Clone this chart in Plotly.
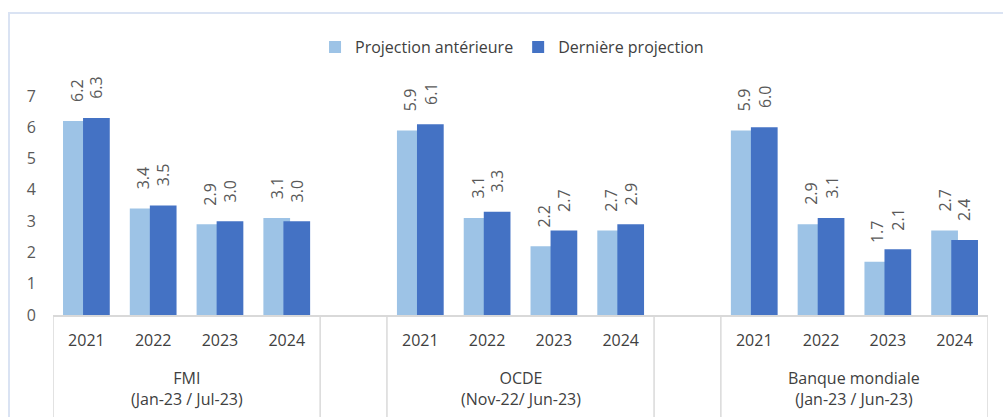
import plotly.graph_objects as go

# ---- data ----
groups = ["FMI", "OCDE", "Banque mondiale"]
group_periods = ["(Jan-23 / Jul-23)", "(Nov-22/ Jun-23)", "(Jan-23 / Jun-23)"]
years = ["2021", "2022", "2023", "2024"]
prev_fmi = [6.2, 3.4, 2.9, 3.1]
new_fmi = [6.3, 3.5, 3.0, 3.0]
prev_ocde = [5.9, 3.1, 2.2, 2.7]
new_ocde = [6.1, 3.3, 2.7, 2.9]
prev_bm = [5.9, 2.9, 1.7, 2.7]
new_bm = [6.0, 3.1, 2.1, 2.4]
series_names = ["Projection antérieure", "Dernière projection"]
y_ticks = [0, 1, 2, 3, 4, 5, 6, 7]

prev_all = [prev_fmi, prev_ocde, prev_bm]
new_all = [new_fmi, new_ocde, new_bm]

# build slot layout: 4 years per group, one empty slot between groups
xs, prev_vals, new_vals, tick_text = [], [], [], []
group_centers, boundaries = [], [-0.5]
pos = 0
for gi in range(len(groups)):
    start = pos
    for yi, yr in enumerate(years):
        xs.append(pos)
        prev_vals.append(prev_all[gi][yi])
        new_vals.append(new_all[gi][yi])
        tick_text.append(yr)
        pos += 1
    group_centers.append((start + pos - 1) / 2)
    boundaries.append(pos - 0.5)
    if gi < len(groups) - 1:
        pos += 1
        boundaries.append(pos - 0.5)
n_slots = pos

C_PREV = "#9DC3E6"
C_NEW = "#4472C4"
FONT = "Open Sans"
W = 0.40
OFF_PREV = -0.35
OFF_NEW = -0.05

fig = go.Figure()
fig.add_trace(go.Bar(x=xs, y=prev_vals, name=series_names[0], marker_color=C_PREV,
                     marker_line_width=0, width=W, offset=OFF_PREV))
fig.add_trace(go.Bar(x=xs, y=new_vals, name=series_names[1], marker_color=C_NEW,
                     marker_line_width=0, width=W, offset=OFF_NEW))

# rotated data labels
for x, v in zip(xs, prev_vals):
    fig.add_annotation(x=x + OFF_PREV + W / 2, y=v, text=f"{v:.1f}", textangle=-90,
                       showarrow=False, yanchor="bottom", yshift=17,
                       font=dict(family=FONT, size=16, color="#595959"))
for x, v in zip(xs, new_vals):
    fig.add_annotation(x=x + OFF_NEW + W / 2, y=v, text=f"{v:.1f}", textangle=-90,
                       showarrow=False, yanchor="bottom", yshift=17,
                       font=dict(family=FONT, size=16, color="#595959"))

# group labels
for c, g, p in zip(group_centers, groups, group_periods):
    fig.add_annotation(x=c, y=0.068, yref="paper", text=f"{g}<br>{p}", showarrow=False,
                       yanchor="middle", font=dict(family=FONT, size=16, color="#404040"))

# category dividers
for b in boundaries:
    fig.add_shape(type="line", xref="x", yref="paper", x0=b, x1=b, y0=-0.05, y1=0.2446,
                  line=dict(color="#D9D9D9", width=1.5))

# outer frame
fig.add_shape(type="rect", xref="paper", yref="paper", x0=9 / 1003, x1=1.05,
              y0=-0.05, y1=(417 - 13) / 417, line=dict(color="#DAE3F3", width=2),
              layer="below")

fig.update_layout(
    width=1003, height=417,
    margin=dict(l=0, r=0, t=0, b=0, pad=0, autoexpand=False),
    paper_bgcolor="white", plot_bgcolor="white",
    barmode="overlay",
    showlegend=True,
    legend=dict(orientation="h", x=0.5105, xanchor="center", y=0.887, yanchor="middle",
                font=dict(family=FONT, size=16, color="#404040"), bgcolor="rgba(0,0,0,0)"),
    font=dict(family=FONT),
    xaxis=dict(domain=[53 / 1003, 988 / 1003], range=[-0.5, n_slots - 0.5],
               tickmode="array", tickvals=xs, ticktext=tick_text, automargin=False,
               showgrid=False, zeroline=False, showline=True, linecolor="#D9D9D9",
               linewidth=1.5, ticks="outside", ticklen=10, tickcolor="rgba(0,0,0,0)",
               tickfont=dict(family=FONT, size=16, color="#404040"), fixedrange=True),
    yaxis=dict(domain=[(417 - 315) / 417, (417 - 64.7) / 417], range=[0, 8],
               tickmode="array", tickvals=y_ticks, showgrid=False, zeroline=False,
               automargin=False,
               showline=False, ticks="", tickfont=dict(family=FONT, size=16, color="#595959"),
               ticklabelstandoff=16, fixedrange=True),
)

post = (
    "var s=document.createElement('style');"
    "s.textContent='html,body{margin:0;padding:0;width:1003px;height:417px;overflow:hidden;}';"
    "document.head.appendChild(s);"
)
fig.write_html("out.html", config={"displayModeBar": False}, post_script=post)
